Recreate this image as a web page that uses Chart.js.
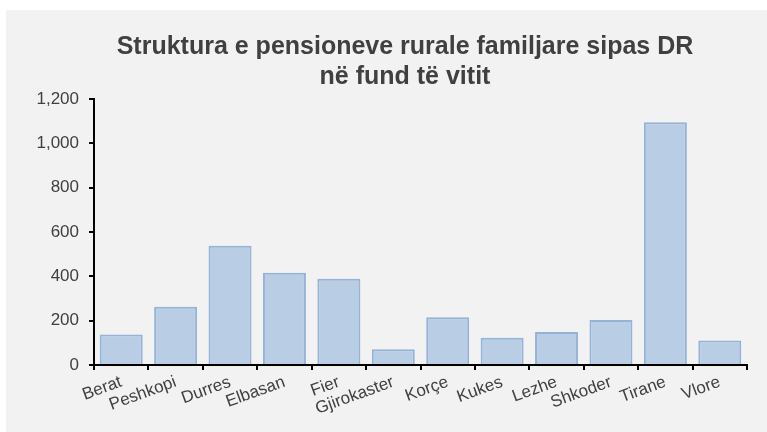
<!doctype html>
<html lang="sq">
    <head>
        <meta charset="UTF-8" />
        <title>Struktura e pensioneve rurale familjare sipas DR</title>
        <script src="https://cdn.jsdelivr.net/npm/chart.js"></script>
        <style>
            body {
                margin: 0;
                background: #ffffff;
                font-family: Arial, "Liberation Sans", sans-serif;
            }
            #panel {
                position: absolute;
                left: 6px;
                top: 10px;
                width: 761px;
                height: 422px;
                background: #f2f2f2;
            }
            #title {
                position: absolute;
                left: 99px;
                top: 20px;
                width: 600px;
                text-align: center;
                font-weight: bold;
                font-size: 25px;
                line-height: 30px;
                color: #404040;
                white-space: nowrap;
            }
            canvas {
                position: absolute;
                left: 0;
                top: 0;
            }
        </style>
    </head>
    <body>
        <div id="panel">
            <canvas id="chart" width="761" height="422"></canvas>
            <div id="title">
                Struktura e pensioneve rurale familjare sipas DR<br />në fund të vitit
            </div>
        </div>

        <script>
            const districts = ["Berat", "Peshkopi", "Durres", "Elbasan", "Fier", "Gjirokaster",
                "Korçe", "Kukes", "Lezhe", "Shkoder", "Tirane", "Vlore"];
            const pensions = [138, 263, 538, 416, 389, 71, 215, 123, 149, 203, 1095, 111];
            const yTicks = [0, 200, 400, 600, 800, 1000, 1200];

            const ctx = document.getElementById("chart").getContext("2d");
            new Chart(ctx, {
                type: "bar",
                data: {
                    labels: districts,
                    datasets: [
                        {
                            data: pensions,
                            backgroundColor: "#b9cde5",
                            borderColor: "#95b3d7",
                            borderWidth: 2,
                            barPercentage: 0.79,
                            categoryPercentage: 1,
                        },
                    ],
                },
                options: {
                    responsive: false,
                    animation: false,
                    layout: {
                        padding: { top: 89, right: 20, bottom: 0, left: 0 },
                    },
                    plugins: {
                        legend: { display: false },
                        tooltip: { enabled: false },
                    },
                    scales: {
                        x: {
                            afterFit: (scale) => { scale.height = 67; },
                            border: { color: "#000", width: 2 },
                            grid: {
                                drawOnChartArea: false,
                                color: "#000",
                                lineWidth: 2,
                                tickLength: 5,
                            },
                            ticks: {
                                color: "#404040",
                                font: { family: "Arial", size: 17 },
                                minRotation: 20,
                                maxRotation: 20,
                                autoSkip: false,
                                padding: 2,
                            },
                        },
                        y: {
                            min: 0,
                            max: yTicks[yTicks.length - 1],
                            afterFit: (scale) => { scale.width = 88; },
                            afterBuildTicks: (scale) => {
                                scale.ticks = yTicks.map((v) => ({ value: v }));
                            },
                            border: { color: "#000", width: 2 },
                            grid: {
                                drawOnChartArea: false,
                                color: "#000",
                                lineWidth: 2,
                                tickLength: 5,
                            },
                            ticks: {
                                color: "#404040",
                                font: { family: "Arial", size: 17 },
                                padding: 10,
                            },
                        },
                    },
                },
            });
        </script>
    </body>
</html>
